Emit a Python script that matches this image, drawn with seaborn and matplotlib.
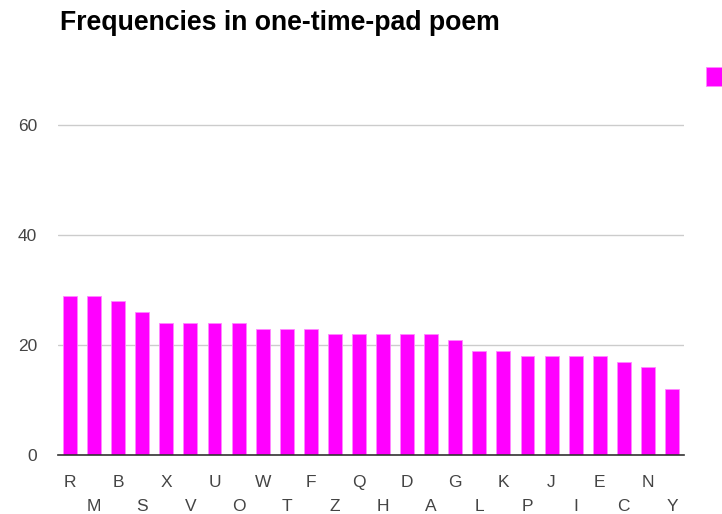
import matplotlib
matplotlib.use("Agg")
import matplotlib.pyplot as plt
import seaborn as sns
import pandas as pd

letters = list("RMBSXVUOWTFZQHDAGLKPJIECNY")
counts = [29, 29, 28, 26, 24, 24, 24, 24, 23, 23, 23, 22, 22, 22, 22, 22,
          21, 19, 19, 18, 18, 18, 18, 17, 16, 12]
yticks = [0, 20, 40, 60]
title = "Frequencies in one-time-pad poem"

sns.set_style("white")
plt.rcParams['font.family'] = ['Liberation Sans', 'DejaVu Sans']

df = pd.DataFrame({"letter": letters, "count": counts})

fig = plt.figure(figsize=(7.22, 5.14), dpi=100)
ax = fig.add_axes([58/722, 1 - 455/514, (684 - 58)/722, (455 - 70)/514])

sns.barplot(data=df, x="letter", y="count", color="#ff00ff", width=0.58,
            edgecolor="#ff88ff", linewidth=0.6, ax=ax, saturation=1, label="count")

ax.set_ylim(0, 70)
ax.set_xlim(-0.5, len(letters) - 0.5)
ax.set_yticks(yticks)
ax.set_yticklabels([str(t) for t in yticks], fontsize=12.5, color="#444444")
ax.yaxis.grid(True, color="#cccccc", linewidth=1)
ax.set_axisbelow(True)
for s in ["top", "right", "left"]:
    ax.spines[s].set_visible(False)
ax.spines["bottom"].set_color("#333333")
ax.spines["bottom"].set_linewidth(1.2)
ax.tick_params(axis="y", length=0, pad=15)
ax.tick_params(axis="x", length=0)
ax.set_xlabel("")
ax.set_ylabel("")

ax.set_xticks(range(len(letters)))
ax.set_xticklabels(letters, fontsize=12.5, color="#444444")
for i, lbl in enumerate(ax.get_xticklabels()):
    lbl.set_verticalalignment("center")
    lbl.set_y(-23/385 if i % 2 == 0 else -46.5/385)

fig.text(60/722, 1 - 23/514, title, fontsize=19.2, fontweight="bold",
         color="#000000", va="center", ha="left")

h, l = ax.get_legend_handles_labels()
leg = fig.legend(h, [""], loc="upper left", bbox_to_anchor=(706/722, 1 - 67/514),
                 frameon=False, handlelength=1.2, handleheight=1.7,
                 borderpad=0, handletextpad=0, borderaxespad=0)
if ax.get_legend():
    ax.get_legend().remove()

fig.savefig("out.png", dpi=100)
